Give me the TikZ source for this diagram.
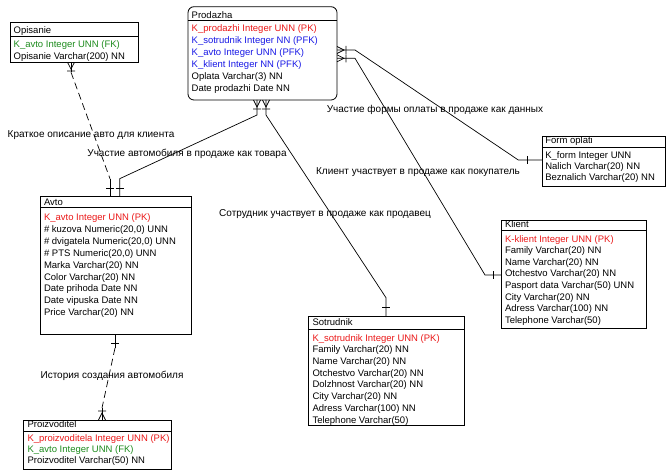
\documentclass[tikz,border=0pt]{standalone}
\usepackage{fontspec}
\setmainfont{Liberation Sans}
\definecolor{pkred}{RGB}{235,25,25}
\definecolor{pfkblue}{RGB}{25,25,230}
\definecolor{fkgreen}{RGB}{30,140,30}
\newcommand\R[2][black]{\hbox{\textcolor{#1}{#2}}}
\newcommand\Rows[2]{\vtop{\baselineskip=#1pt\lineskip=0pt\lineskiplimit=-20pt #2}}
\begin{document}
\begin{tikzpicture}[x=1pt,y=-1pt,
  ebox/.style={draw=black,line width=0.8pt,inner sep=0pt,outer sep=0pt,anchor=north west},
  etxt/.style={inner sep=0pt,outer sep=0pt,anchor=base west,font=\fontsize{9.5}{12}\selectfont},
  lbl/.style={inner sep=0pt,font=\fontsize{10}{12}\selectfont},
  conn/.style={line width=0.7pt},
  dconn/.style={line width=0.7pt,dash pattern=on 7pt off 4pt},
  deco/.style={line width=0.7pt}]
\useasboundingbox[fill=white] (0,0) rectangle (671,473);

% ---------- Opisanie
\node[ebox,minimum width=127.3pt,minimum height=40pt] (opisanie) at (10.7,22.3) {};
\draw[deco] ([yshift=-14.4pt]opisanie.north west) -- ([yshift=-14.4pt]opisanie.north east);
\node[etxt] (opisanieT) at (13.7,33.3) {Opisanie};
\node[etxt] (opisanieB) at (13.7,47.1) {\Rows{12.5}{\R[fkgreen]{K\_avto Integer UNN (FK)}\R{Opisanie Varchar(200) NN}}};

% ---------- Prodazha
\node[ebox,rounded corners=6pt,minimum width=149pt,minimum height=93.3pt] (prodazha) at (188,6.7) {};
\draw[deco] ([yshift=-14pt]prodazha.north west) -- ([yshift=-14pt]prodazha.north east);
\node[etxt] (prodazhaT) at (191.7,18.3) {Prodazha};
\node[etxt] (prodazhaB) at (191.7,31.1) {\Rows{12}{%
 \R[pkred]{K\_prodazhi Integer UNN (PK)}%
 \R[pfkblue]{K\_sotrudnik Integer NN (PFK)}%
 \R[pfkblue]{K\_avto Integer UNN (PFK)}%
 \R[pfkblue]{K\_klient Integer NN (PFK)}%
 \R{Oplata Varchar(3) NN}%
 \R{Date prodazhi Date NN}}};

% ---------- Form oplati
\node[ebox,minimum width=122.7pt,minimum height=50pt] (form) at (542.3,136.7) {};
\draw[deco] ([yshift=-11pt]form.north west) -- ([yshift=-11pt]form.north east);
\node[etxt] (formT) at (545.3,143.1) {Form oplati};
\node[etxt] (formB) at (545.3,158.1) {\Rows{11.2}{%
 \R{K\_form Integer UNN}%
 \R{Nalich Varchar(20) NN}%
 \R{Beznalich Varchar(20) NN}}};

% ---------- Klient
\node[ebox,minimum width=145.7pt,minimum height=108.3pt] (klient) at (501,220) {};
\draw[deco] ([yshift=-10.7pt]klient.north west) -- ([yshift=-10.7pt]klient.north east);
\node[etxt] (klientT) at (505,227.5) {Klient};
\node[etxt] (klientB) at (505,242.1) {\Rows{11.6}{%
 \R[pkred]{K-klient Integer UNN (PK)}%
 \R{Family Varchar(20) NN}%
 \R{Name Varchar(20) NN}%
 \R{Otchestvo Varchar(20) NN}%
 \R{Pasport data Varchar(50) UNN}%
 \R{City Varchar(20) NN}%
 \R{Adress Varchar(100) NN}%
 \R{Telephone Varchar(50)}}};

% ---------- Avto
\node[ebox,minimum width=151pt,minimum height=137.3pt] (avto) at (40.7,196.7) {};
\draw[deco] ([yshift=-11pt]avto.north west) -- ([yshift=-11pt]avto.north east);
\node[etxt] (avtoT) at (44,205.6) {Avto};
\node[etxt] (avtoB) at (44,220.5) {\Rows{11.9}{%
 \R[pkred]{K\_avto Integer UNN (PK)}%
 \R{\# kuzova Numeric(20,0) UNN}%
 \R{\# dvigatela Numeric(20,0) UNN}%
 \R{\# PTS Numeric(20,0) UNN}%
 \R{Marka Varchar(20) NN}%
 \R{Color Varchar(20) NN}%
 \R{Date prihoda Date NN}%
 \R{Date vipuska Date NN}%
 \R{Price Varchar(20) NN}}};

% ---------- Sotrudnik
\node[ebox,minimum width=156pt,minimum height=109pt] (sotrudnik) at (308.3,316.7) {};
\draw[deco] ([yshift=-12.6pt]sotrudnik.north west) -- ([yshift=-12.6pt]sotrudnik.north east);
\node[etxt] (sotrudnikT) at (312.5,325.6) {Sotrudnik};
\node[etxt] (sotrudnikB) at (312.5,341.1) {\Rows{11.7}{%
 \R[pkred]{K\_sotrudnik Integer UNN (PK)}%
 \R{Family Varchar(20) NN}%
 \R{Name Varchar(20) NN}%
 \R{Otchestvo Varchar(20) NN}%
 \R{Dolzhnost Varchar(20) NN}%
 \R{City Varchar(20) NN}%
 \R{Adress Varchar(100) NN}%
 \R{Telephone Varchar(50)}}};

% ---------- Proizvoditel
\node[ebox,minimum width=148.4pt,minimum height=49pt] (proizv) at (23.3,420) {};
\draw[deco] ([yshift=-11pt]proizv.north west) -- ([yshift=-11pt]proizv.north east);
\node[etxt] (proizvT) at (27.5,427.4) {Proizvoditel};
\node[etxt] (proizvB) at (27.5,441.1) {\Rows{11}{%
 \R[pkred]{K\_proizvoditela Integer UNN (PK)}%
 \R[fkgreen]{K\_avto Integer UNN (FK)}%
 \R{Proizvoditel Varchar(50) NN}}};

% ---------- connectors
% Opisanie - Avto (dashed)
\draw[conn] ([xshift=60.3pt]opisanie.south west) -- ++(0,10) coordinate (opA);
\coordinate (avA) at ([xshift=69.3pt,yshift=18pt]avto.north west);
\draw[dconn] (opA) -- (avA);
\draw[conn] (avA) -- ([xshift=69.3pt]avto.north west);
% Prodazha - Avto
\draw[conn] ([xshift=69pt]prodazha.south west) -- ++(0,15)
  -- ([xshift=79pt,yshift=18pt]avto.north west) -- ([xshift=79pt]avto.north west);
% Prodazha - Sotrudnik
\draw[conn] ([xshift=78pt]prodazha.south west) -- ++(0,15)
  -- ([xshift=77.7pt,yshift=19pt]sotrudnik.north west) -- ([xshift=77.7pt]sotrudnik.north west);
% Prodazha - Form oplati
\draw[conn] ([yshift=-43.3pt]prodazha.north east) -- ++(18,0)
  -- ([xshift=-24pt,yshift=-23.3pt]form.north west) -- ([yshift=-23.3pt]form.north west);
% Prodazha - Klient
\draw[conn] ([yshift=-51.6pt]prodazha.north east) -- ++(18,0)
  -- ([xshift=-16pt,yshift=-55pt]klient.north west) -- ([yshift=-55pt]klient.north west);
% Avto - Proizvoditel (dashed)
\draw[conn] ([xshift=74.3pt]avto.south west) -- ++(0,14) coordinate (avP);
\coordinate (prP) at ([xshift=78.7pt,yshift=12pt]proizv.north west);
\draw[dconn] (avP) -- (prP);
\draw[conn] (prP) -- ([xshift=78.7pt]proizv.north west);

% ---------- end symbols
% many ends
\draw[deco] (67.5,62.3) -- (71,69) -- (74.5,62.3) (67,71) -- (75,71);
\draw[deco] (253.5,100) -- (257,107) -- (260.5,100) (253,109) -- (261,109);
\draw[deco] (262.5,100) -- (266,107) -- (269.5,100) (262,109) -- (270,109);
\draw[deco] (337,46.5) -- (344,50) -- (337,53.5) (346,46) -- (346,54);
\draw[deco] (337,54.8) -- (344,58.3) -- (337,61.8) (346,54.3) -- (346,62.3);
\draw[deco] (98.5,420) -- (102,413) -- (105.5,420) (98,411) -- (106,411);
% one ends
\draw[deco] (106,188) -- (114,188) (115.5,188) -- (123.5,188);
\draw[deco] (382,307) -- (390,307);
\draw[deco] (527,156) -- (527,164);
\draw[deco] (493,271) -- (493,279);
\draw[deco] (111,343) -- (119,343);

% ---------- labels
\node[lbl] (l1) at (91,135) {Краткое описание авто для клиента};
\node[lbl] (l2) at (187,154) {Участие автомобиля в продаже как товара};
\node[lbl] (l3) at (325,214) {Сотрудник участвует в продаже как продавец};
\node[lbl] (l4) at (435,110) {Участие формы оплаты в продаже как данных};
\node[lbl] (l5) at (418,172.5) {Клиент участвует в продаже как покупатель};
\node[lbl] (l6) at (112,376) {История создания автомобиля};
\end{tikzpicture}
\end{document}
